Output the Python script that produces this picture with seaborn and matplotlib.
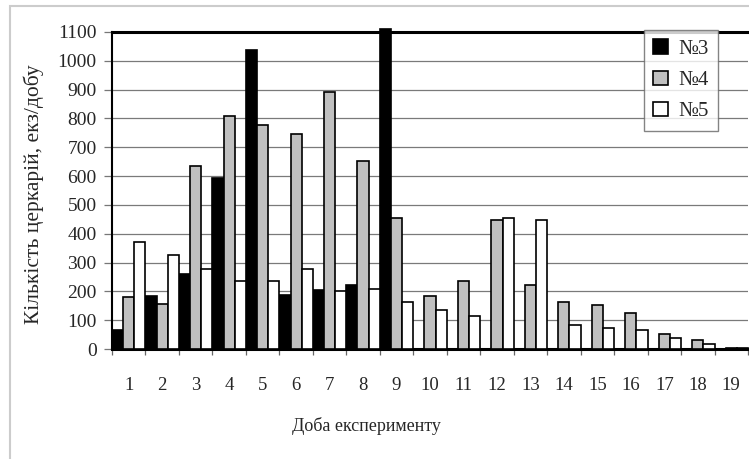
import pandas as pd
import numpy as np
import matplotlib
matplotlib.use("Agg")
import matplotlib.pyplot as plt
from matplotlib.patches import Rectangle
from matplotlib.ticker import FixedLocator
import seaborn as sns

# Data
days = list(range(1, 20))
series_names = ['№3', '№4', '№5']
n3 = [65, 184, 260, 592, 1038, 186, 206, 223, 1110, 0, 0, 0, 0, 0, 0, 0, 0, 0, 0]
n4 = [182, 157, 635, 809, 776, 746, 893, 654, 454, 184, 237, 447, 223, 164, 153, 125, 52, 32, 4]
n5 = [372, 325, 276, 235, 235, 276, 200, 208, 164, 135, 115, 455, 447, 82, 73, 66, 38, 19, 3]
y_ticks = list(range(0, 1101, 100))

colors = {'№3': 'black', '№4': '#c0c0c0', '№5': 'white'}

sns.set_style("white")
plt.rcParams['font.family'] = ['Liberation Serif', 'DejaVu Serif']

df = pd.DataFrame({
    'day': days * 3,
    'series': [series_names[0]] * 19 + [series_names[1]] * 19 + [series_names[2]] * 19,
    'value': n3 + n4 + n5,
})

fig = plt.figure(figsize=(7.49, 4.59), dpi=100)
ax = fig.add_axes([112 / 749, 1 - 349 / 459, 636 / 749, 317 / 459])

sns.barplot(data=df, x='day', y='value', hue='series', palette=colors,
            width=1.0, gap=0, edgecolor='black', linewidth=1.2,
            saturation=1, errorbar=None, ax=ax, zorder=3)

for p in ax.patches:
    p.set_clip_on(False)

ax.set_xlim(-0.5, 18.5)
ax.set_ylim(0, 1100)
ax.set_yticks(y_ticks)
ax.yaxis.grid(True, color='#7a7a7a', linewidth=0.9, zorder=0)
ax.set_axisbelow(True)

# tick marks between groups, labels at centres
ax.xaxis.set_minor_locator(FixedLocator(np.arange(-0.5, 19, 1)))
ax.tick_params(axis='x', which='major', length=0, pad=20, labelsize=13.5)
ax.tick_params(axis='x', which='minor', bottom=True, length=4, color='#666666', width=0.9)
ax.tick_params(axis='y', which='major', left=True, length=6, color='#777777', width=0.9,
               labelsize=14, pad=5)

for s in ['top', 'bottom']:
    ax.spines[s].set_linewidth(2.2)
    ax.spines[s].set_color('black')
ax.spines['left'].set_linewidth(1.5)
ax.spines['left'].set_color('black')
ax.spines['right'].set_visible(False)

ax.set_xlabel('Доба експерименту', fontsize=13)
ax.xaxis.set_label_coords(0.40, -0.214)
ax.set_ylabel('Кількість церкарій, екз/добу', fontsize=15.5)
ax.yaxis.set_label_coords(-0.107, 0.489)

leg = ax.legend(loc='upper right', bbox_to_anchor=(0.953, 1.006), fontsize=15,
                frameon=True, fancybox=False, edgecolor='#666666',
                handlelength=0.7, handleheight=0.7, labelspacing=0.55,
                handletextpad=0.5, borderpad=0.45, borderaxespad=0)
leg.get_frame().set_linewidth(1.0)
leg.set_zorder(5)

# light outer frame of the chart area
fig.add_artist(Rectangle((10 / 749, -0.1), 1.2, 1 - 6 / 459 + 0.1,
                         transform=fig.transFigure, fill=False,
                         edgecolor='#cccccc', linewidth=1.5))

fig.savefig('out.png', dpi=100)
